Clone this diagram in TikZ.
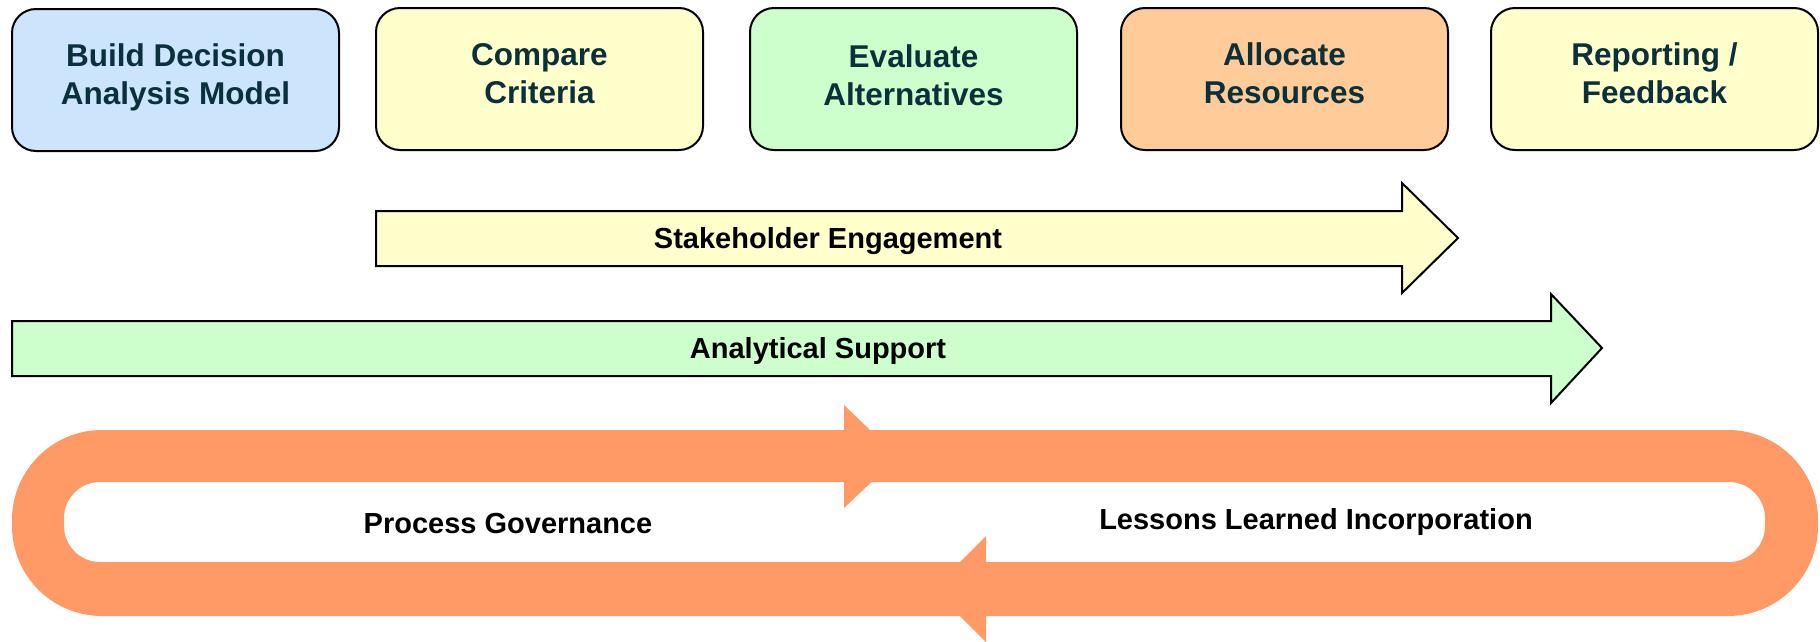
\documentclass[tikz,border=0pt]{standalone}
\usepackage{fontspec}
\setmainfont{Liberation Sans}

\definecolor{modelblue}{RGB}{204,229,252}
\definecolor{paleyellow}{RGB}{255,255,204}
\definecolor{palegreen}{RGB}{204,255,204}
\definecolor{paleorange}{RGB}{255,204,153}
\definecolor{loopbrown}{RGB}{255,153,102}
\definecolor{stepink}{RGB}{10,48,60}

\begin{document}
\begin{tikzpicture}[x=1pt,y=-1pt,
   stepbox/.style={draw=black,line width=2pt,rounded corners=24pt,
      minimum width=327pt,minimum height=142pt,inner sep=0pt},
   steptext/.style={font=\fontsize{31.5}{38}\selectfont\bfseries,
      text=stepink,align=center},
   bandtext/.style={font=\fontsize{29}{34}\selectfont\bfseries,
      text=black,anchor=base},
   fatarrow/.style={draw=black,line width=2pt,line join=miter}]

   \fill[white] (0,0) rectangle (1820,641);
   \useasboundingbox (0,0) rectangle (1820,641);

   % the five steps
   \node[stepbox,fill=modelblue]  (build)    at (175.5,80) {};
   \node[stepbox,fill=paleyellow] (compare)  at (539.5,79) {};
   \node[stepbox,fill=palegreen]  (evaluate) at (913.5,79) {};
   \node[stepbox,fill=paleorange] (allocate) at (1284.5,79) {};
   \node[stepbox,fill=paleyellow] (report)   at (1654.5,79) {};

   \node[steptext] (buildtxt)    at (175.5,77)  {Build Decision\\Analysis Model};
   \node[steptext] (comparetxt)  at (539.5,73.5) {Compare\\Criteria};
   \node[steptext] (evaluatetxt) at (913.5,75.5) {Evaluate\\Alternatives};
   \node[steptext] (allocatetxt) at (1284.5,73.5) {Allocate\\Resources};
   \node[steptext] (reporttxt)   at (1654.5,73.5) {Reporting /\\Feedback};

   % block arrows
   \filldraw[fatarrow,fill=paleyellow] (376,211) -- (1402,211) -- (1402,183)
      -- (1458,238) -- (1402,293) -- (1402,266) -- (376,266) -- cycle;
   \node[bandtext] (stake) at (828,248) {Stakeholder Engagement};

   \filldraw[fatarrow,fill=palegreen] (12,321) -- (1551,321) -- (1551,294)
      -- (1602,348) -- (1551,403) -- (1551,376) -- (12,376) -- cycle;
   \node[bandtext] (support) at (818,358) {Analytical Support};

   % governance loop
   \fill[loopbrown,even odd rule] (12,430) [rounded corners=90pt] rectangle (1818,616)
      (64,482) [rounded corners=36pt] rectangle (1765,562);
   \fill[loopbrown] (844,405) -- (898,457) -- (844,508) -- cycle;
   \fill[loopbrown] (986,536) -- (933,589) -- (986,642) -- cycle;

   \node[bandtext] (process) at (508,533) {Process Governance};
   \node[bandtext] (lessons) at (1316,529) {Lessons Learned Incorporation};
\end{tikzpicture}
\end{document}
